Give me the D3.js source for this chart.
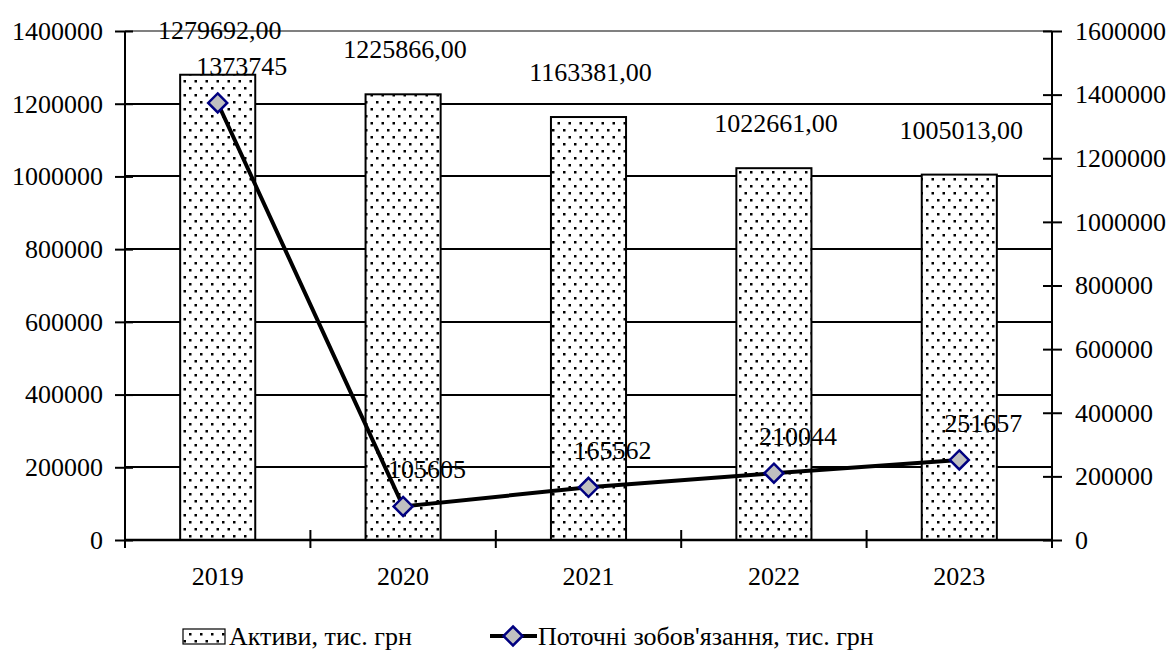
<!DOCTYPE html>
<html>
<head>
<meta charset="utf-8">
<script src="https://cdn.jsdelivr.net/npm/d3@7"></script>
<style>
  body { margin: 0; background: #fff; }
  svg text { font-family: "Liberation Serif", "Times New Roman", serif; font-size: 26px; fill: #000; }
</style>
</head>
<body>
<svg id="chart" width="1176" height="661"></svg>
<script>
// дані
const years = ["2019", "2020", "2021", "2022", "2023"];
const assets = [1279692, 1225866, 1163381, 1022661, 1005013];
const liabilities = [1373745, 105605, 165562, 210044, 251657];
const leftTicks = [0, 200000, 400000, 600000, 800000, 1000000, 1200000, 1400000];
const rightTicks = [0, 200000, 400000, 600000, 800000, 1000000, 1200000, 1400000, 1600000];
const seriesNames = ["Активи, тис. грн", "Поточні зобов'язання, тис. грн"];

const svg = d3.select("#chart");
const plot = {left: 125, right: 1052, top: 31, bottom: 540};

// шкали
const xscale = d3.scaleBand().domain(years).range([plot.left, plot.right]).padding(0);
const yleft = d3.scaleLinear().domain([0, 1400000]).range([plot.bottom, plot.top]);
const yright = d3.scaleLinear().domain([0, 1600000]).range([plot.bottom, plot.top]);
const barWidth = xscale.bandwidth() * 0.405;

// візерунок з крапок
const defs = svg.append("defs");
const pat = defs.append("pattern")
    .attr("id", "dots")
    .attr("patternUnits", "userSpaceOnUse")
    .attr("width", 11).attr("height", 14);
pat.append("rect").attr("width", 11).attr("height", 14).attr("fill", "#fff");
pat.append("rect").attr("x", 2).attr("y", 3).attr("width", 2.5).attr("height", 2.5).attr("fill", "#000");
pat.append("rect").attr("x", 7.5).attr("y", 10).attr("width", 2.5).attr("height", 2.5).attr("fill", "#000");

// сітка
svg.append("g")
    .selectAll("line")
    .data(leftTicks.filter(d => d > 0))
    .join("line")
    .attr("x1", plot.left).attr("x2", plot.right)
    .attr("y1", d => Math.round(yleft(d))).attr("y2", d => Math.round(yleft(d)))
    .attr("stroke", d => d === 1400000 ? "#808080" : "#000")
    .attr("stroke-width", 2)
    .attr("shape-rendering", "crispEdges");

// стовпці
svg.append("g")
    .selectAll("rect")
    .data(assets)
    .join("rect")
    .attr("x", (d, i) => xscale(years[i]) + xscale.bandwidth() / 2 - barWidth / 2)
    .attr("y", d => yleft(d))
    .attr("width", barWidth)
    .attr("height", d => yleft(0) - yleft(d))
    .attr("fill", "url(#dots)")
    .attr("stroke", "#000")
    .attr("stroke-width", 2);

// підписи стовпців
svg.append("g")
    .selectAll("text")
    .data(assets)
    .join("text")
    .attr("x", (d, i) => xscale(years[i]) + xscale.bandwidth() / 2 + 2)
    .attr("y", d => yleft(d) - 36)
    .attr("text-anchor", "middle")
    .text(d => d3.format("d")(d) + ",00");

// ліва вісь
const leftAxis = svg.append("g")
    .attr("transform", `translate(${plot.left},0)`)
    .call(d3.axisLeft(yleft).tickValues(leftTicks).tickSize(10).tickPadding(12).tickFormat(d3.format("d")));
leftAxis.selectAll(".tick line").attr("x1", 8).attr("stroke-width", 2);
leftAxis.select(".domain").attr("d", `M0,${plot.top}V${plot.bottom}`).attr("stroke-width", 2);

// права вісь
const rightAxis = svg.append("g")
    .attr("transform", `translate(${plot.right},0)`)
    .call(d3.axisRight(yright).tickValues(rightTicks).tickSize(10).tickPadding(13).tickFormat(d3.format("d")));
rightAxis.selectAll(".tick line").attr("x1", -9).attr("stroke-width", 2);
rightAxis.select(".domain").attr("d", `M0,${plot.top}V${plot.bottom}`).attr("stroke-width", 2);

// нижня вісь
const bottomAxis = svg.append("g")
    .attr("transform", `translate(0,${plot.bottom})`)
    .call(d3.axisBottom(xscale).tickSize(0).tickPadding(27));
bottomAxis.selectAll(".tick text").attr("dy", "0.71em");
bottomAxis.select(".domain").attr("d", `M${plot.left},0H${plot.right}`).attr("stroke-width", 2.5);
bottomAxis.append("g")
    .selectAll("line")
    .data(years.map(y => xscale(y)).concat([plot.right]))
    .join("line")
    .attr("x1", d => d).attr("x2", d => d)
    .attr("y1", -10).attr("y2", 8)
    .attr("stroke", "#000").attr("stroke-width", 2);
[leftAxis, rightAxis, bottomAxis].forEach(a => a.attr("font-family", null).attr("font-size", null));

// лінія
const line = d3.line()
    .x((d, i) => xscale(years[i]) + xscale.bandwidth() / 2)
    .y(d => yright(d));
svg.append("path")
    .datum(liabilities)
    .attr("d", line)
    .attr("fill", "none")
    .attr("stroke", "#000")
    .attr("stroke-width", 4);

const diamond = (cx, cy, r) => `M${cx},${cy - r}L${cx + r},${cy}L${cx},${cy + r}L${cx - r},${cy}Z`;
svg.append("g")
    .selectAll("path")
    .data(liabilities)
    .join("path")
    .attr("d", (d, i) => diamond(xscale(years[i]) + xscale.bandwidth() / 2, yright(d), 9.5))
    .attr("fill", "#c0c0c0")
    .attr("stroke", "#000080")
    .attr("stroke-width", 2.5);

// підписи лінії
svg.append("g")
    .selectAll("text")
    .data(liabilities)
    .join("text")
    .attr("x", (d, i) => xscale(years[i]) + xscale.bandwidth() / 2 + 24)
    .attr("y", d => yright(d) - 28)
    .attr("text-anchor", "middle")
    .text(d => d3.format("d")(d));

// легенда
const legend = svg.append("g");
legend.append("rect")
    .attr("x", 183).attr("y", 629).attr("width", 42).attr("height", 15)
    .attr("fill", "url(#dots)").attr("stroke", "#000").attr("stroke-width", 1.2);
legend.append("text").attr("x", 229).attr("y", 645).text(seriesNames[0]);
legend.append("line")
    .attr("x1", 490).attr("x2", 537).attr("y1", 636).attr("y2", 636)
    .attr("stroke", "#000").attr("stroke-width", 4);
legend.append("path")
    .attr("d", diamond(513, 636, 9.5))
    .attr("fill", "#c0c0c0").attr("stroke", "#000080").attr("stroke-width", 2.5);
legend.append("text").attr("x", 538).attr("y", 645).text(seriesNames[1]);
</script>
</body>
</html>
